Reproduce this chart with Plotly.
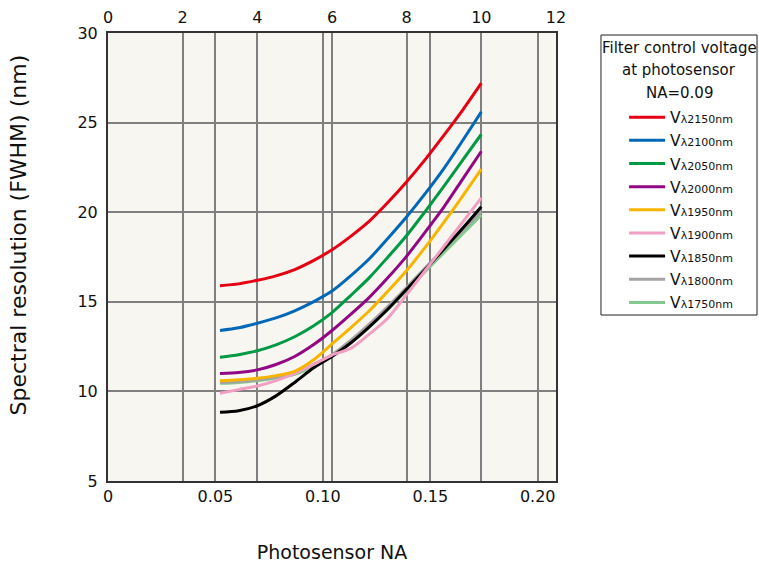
import plotly.graph_objects as go

# top-axis positions of the sampled points (curves run from 3 to 10)
x_top = [3, 3.5, 4, 4.5, 5, 5.5, 6, 6.5, 7, 7.5, 8, 8.5, 9, 9.5, 10]

labels = ['2150', '2100', '2050', '2000', '1950', '1900', '1850', '1800', '1750']
colors = ['#e60012', '#0068b7', '#009944', '#920783', '#f8b500',
          '#f19ec2', '#000000', '#a3a3a3', '#84c98f']

v2150 = [15.9, 16.0, 16.2, 16.45, 16.8, 17.3, 17.9, 18.65, 19.5, 20.55, 21.7, 22.95, 24.3, 25.7, 27.2]
v2100 = [13.4, 13.55, 13.8, 14.1, 14.5, 15.0, 15.6, 16.45, 17.4, 18.55, 19.75, 21.05, 22.45, 24.0, 25.6]
v2050 = [11.9, 12.05, 12.27, 12.6, 13.05, 13.65, 14.4, 15.35, 16.35, 17.5, 18.7, 20.05, 21.45, 22.9, 24.35]
v2000 = [11.0, 11.05, 11.2, 11.5, 11.95, 12.6, 13.4, 14.3, 15.25, 16.35, 17.55, 18.9, 20.3, 21.85, 23.4]
v1950 = [10.6, 10.65, 10.73, 10.88, 11.12, 11.75, 12.65, 13.55, 14.5, 15.6, 16.75, 18.05, 19.45, 20.9, 22.4]
v1900 = [9.9, 10.1, 10.3, 10.6, 11.0, 11.5, 12.03, 12.4, 13.2, 14.1, 15.4, 16.75, 18.1, 19.45, 20.8]
v1850 = [8.83, 8.92, 9.2, 9.75, 10.5, 11.3, 11.95, 12.7, 13.6, 14.6, 15.7, 16.8, 17.95, 19.1, 20.3]
v1800 = [10.5, 10.55, 10.65, 10.8, 11.05, 11.5, 12.05, 12.85, 13.75, 14.75, 15.8, 16.9, 17.95, 19.0, 20.05]
v1750 = [10.45, 10.5, 10.6, 10.75, 10.95, 11.4, 12.0, 12.75, 13.6, 14.6, 15.65, 16.7, 17.75, 18.8, 19.85]
series = [v2150, v2100, v2050, v2000, v1950, v1900, v1850, v1800, v1750]

legend_title = ['Filter control voltage', 'at photosensor', 'NA=0.09']

FONT = 'DejaVu Sans'
GREY = '#7f7f7f'

fig = go.Figure()

# draw 1750 first so 2150 sits on top, legend reversed back
for lab, col, ys in reversed(list(zip(labels, colors, series))):
    fig.add_trace(go.Scatter(
        x=x_top, y=ys, xaxis='x2', mode='lines',
        line=dict(color=col, width=3, shape='spline', smoothing=0.8),
        name="V<span style='font-size:11px'>λ" + lab + "nm</span>"))

fig.update_layout(
    width=759, height=567,
    margin=dict(l=108, r=203, t=33, b=86, autoexpand=False),
    paper_bgcolor='white', plot_bgcolor='#f7f6f0',
    font=dict(family=FONT, size=16, color='#111'),
    showlegend=True,
    legend=dict(
        x=1.152, y=0.849, xanchor='left', yanchor='top',
        traceorder='reversed', bgcolor='rgba(0,0,0,0)', borderwidth=0,
        font=dict(size=15.5), itemwidth=36, tracegroupgap=0),
    xaxis=dict(range=[0, 0.2085], tickvals=[0, 0.05, 0.10, 0.15, 0.20],
               ticktext=['0', '0.05', '0.10', '0.15', '0.20'],
               showgrid=True, gridcolor=GREY, gridwidth=1.5,
               zeroline=False, ticks='', tickfont=dict(size=16),
               showline=True, linecolor='#333', linewidth=2, mirror=True,
               title=dict(text='Photosensor NA', standoff=40, font=dict(size=19))),
    xaxis2=dict(range=[0, 12], tickvals=[0, 2, 4, 6, 8, 10, 12],
                overlaying='x', side='top', showgrid=True, gridcolor=GREY,
                gridwidth=1.5, zeroline=False, ticks='', tickfont=dict(size=16),
                ticklabelstandoff=6),
    yaxis=dict(range=[5, 30], tickvals=[5, 10, 15, 20, 25, 30],
               showgrid=True, gridcolor=GREY, gridwidth=1.5, zeroline=False,
               ticks='', tickfont=dict(size=16), ticklabelstandoff=5,
               showline=True, linecolor='#333', linewidth=2, mirror=True),
)

# y title sits a bit above the plot centre, so place it by hand
fig.add_annotation(xref='paper', yref='paper', x=-0.2, y=0.549,
                   text='Spectral resolution (FWHM) (nm)', textangle=-90,
                   showarrow=False, xanchor='center', yanchor='middle',
                   font=dict(size=22))

# the three darker reference lines
fig.add_shape(type='line', xref='x2', yref='paper', x0=6, x1=6, y0=0, y1=1,
              line=dict(color='black', width=1.2), layer='below')
fig.add_shape(type='line', xref='x', yref='paper', x0=0.15, x1=0.15, y0=0, y1=1,
              line=dict(color='black', width=1.2), layer='below')
fig.add_shape(type='line', xref='paper', yref='y', x0=0, x1=1, y0=20, y1=20,
              line=dict(color='black', width=1.2), layer='below')

# legend frame and centred title
fig.add_shape(type='rect', xref='paper', yref='paper',
              x0=1.1004, x1=1.4487, y0=0.3705, y1=0.9955,
              line=dict(color='#222', width=1), fillcolor='white', layer='below')
for i, txt in enumerate(legend_title):
    fig.add_annotation(xref='paper', yref='paper', x=1.2746, y=0.9665 - i * 0.0502,
                       text=txt, showarrow=False, xanchor='center', yanchor='middle',
                       font=dict(size=15))

# drop the default page margin so the figure sits at the window corner
fig.write_html("out.html", config={'displayModeBar': False},
               post_script="document.body.style.margin='0';")
